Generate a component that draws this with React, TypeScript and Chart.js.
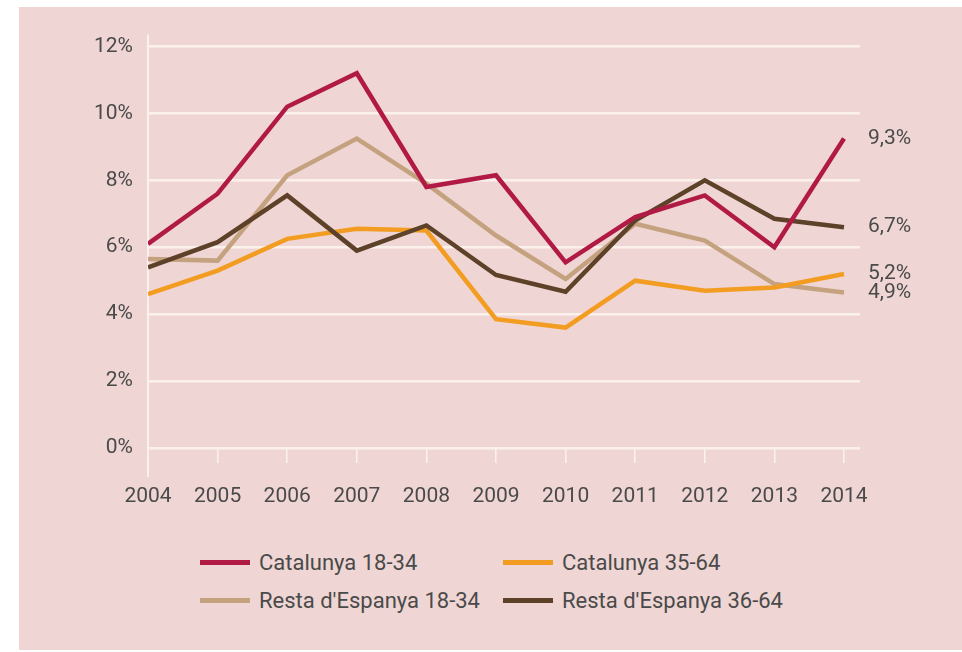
import React, { useEffect, useRef } from "react";
import { Chart, registerables } from "chart.js";

Chart.register(...registerables);

const years = [2004, 2005, 2006, 2007, 2008, 2009, 2010, 2011, 2012, 2013, 2014];
const cat1834 = [6.1, 7.6, 10.2, 11.2, 7.8, 8.15, 5.55, 6.9, 7.55, 6.0, 9.25];
const cat3564 = [4.6, 5.3, 6.25, 6.55, 6.5, 3.85, 3.6, 5.0, 4.7, 4.8, 5.2];
const resta1834 = [5.65, 5.6, 8.15, 9.25, 7.9, 6.35, 5.05, 6.7, 6.2, 4.9, 4.65];
const resta3664 = [5.4, 6.15, 7.55, 5.9, 6.65, 5.17, 4.67, 6.8, 8.0, 6.85, 6.6];

const seriesNames = ["Catalunya 18-34", "Catalunya 35-64", "Resta d'Espanya 18-34", "Resta d'Espanya 36-64"];
const seriesValues = [cat1834, cat3564, resta1834, resta3664];
const seriesColors = ["#B01A45", "#F39C22", "#C5A27F", "#5D4128"];
const drawOrder = [0, 2, 3, 1];
const endLabels = ["9,3%", "5,2%", "4,9%", "6,7%"];
const yTicks = [0, 2, 4, 6, 8, 10, 12];

const FONT = "Roboto, 'Liberation Sans', sans-serif";
const TEXT = "#4a4a4a";
const BG = "#EFD6D4";
const GRID = "#FBF1EC";

export default function App() {
  const ref = useRef<HTMLCanvasElement | null>(null);

  useEffect(() => {
    if (!ref.current) return;
    const endLabelPlugin = {
      id: "endLabels",
      beforeDatasetsDraw(chart: any) {
        const { ctx, chartArea, scales } = chart;
        ctx.save();
        ctx.strokeStyle = GRID;
        ctx.lineWidth = 2;
        ctx.beginPath();
        ctx.moveTo(chartArea.left, chartArea.top);
        ctx.lineTo(chartArea.left, scales.y.getPixelForValue(0) + 29);
        ctx.stroke();
        ctx.restore();
      },
      afterDatasetsDraw(chart: any) {
        const { ctx, chartArea } = chart;
        ctx.save();
        ctx.font = `21px ${FONT}`;
        ctx.fillStyle = TEXT;
        ctx.textAlign = "left";
        ctx.textBaseline = "middle";
        chart.data.datasets.forEach((ds: any, i: number) => {
          const meta = chart.getDatasetMeta(i);
          const pt = meta.data[meta.data.length - 1];
          ctx.fillText(endLabels[i], chartArea.right + 8, pt.y);
        });
        ctx.restore();
      },
    };

    const chart = new Chart(ref.current, {
      type: "line",
      data: {
        datasets: seriesNames.map((name, i) => ({
          label: name,
          data: years.map((yr, j) => ({ x: yr, y: seriesValues[i][j] })),
          borderColor: seriesColors[i],
          backgroundColor: seriesColors[i],
          borderWidth: 4.5,
          pointRadius: 0,
          tension: 0,
          order: drawOrder[i],
          borderJoinStyle: "miter" as const,
        })),
      },
      options: {
        animation: false,
        responsive: false,
        maintainAspectRatio: false,
        layout: { padding: { left: 0, top: 23, right: 102, bottom: 0 } },
        plugins: { legend: { display: false }, tooltip: { enabled: false } },
        scales: {
          x: {
            type: "linear",
            min: 2004,
            max: 2014.23,
            afterFit(scale: any) {
              scale.height = 59;
            },
            ticks: {
              stepSize: 1,
              includeBounds: false,
              autoSkip: false,
              maxRotation: 0,
              padding: 21,
              color: TEXT,
              font: { family: FONT, size: 21 },
              callback: (v: any) => String(v),
            },
            grid: {
              drawOnChartArea: false,
              drawTicks: true,
              tickLength: 15,
              color: GRID,
              lineWidth: 1.5,
            },
            border: { display: false },
          },
          y: {
            type: "linear",
            min: 0,
            max: 12.355,
            afterFit(scale: any) {
              scale.width = 129;
            },
            afterBuildTicks(scale: any) {
              scale.ticks = yTicks.map((v) => ({ value: v }));
            },
            ticks: {
              padding: 15,
              color: TEXT,
              font: { family: FONT, size: 21 },
              callback: (v: any) => `${v}%`,
            },
            grid: {
              drawTicks: false,
              color: GRID,
              lineWidth: 2.5,
            },
            border: { display: false },
          },
        },
      },
      plugins: [endLabelPlugin],
    });
    return () => chart.destroy();
  }, []);

  const legendOrder = [0, 1, 2, 3];
  return (
    <div
      style={{
        position: "absolute",
        left: 19,
        top: 7,
        width: 943,
        height: 643,
        background: BG,
        overflow: "hidden",
      }}
    >
      <canvas ref={ref} width={943} height={500} style={{ position: "absolute", left: 0, top: 0 }} />
      {legendOrder.map((i) => {
        const col = i % 2;
        const row = Math.floor(i / 2);
        const left = col === 0 ? 181 : 484;
        const center = row === 0 ? 555 : 593;
        return (
          <div
            key={i}
            style={{
              position: "absolute",
              left,
              top: center - 19,
              height: 38,
              display: "flex",
              alignItems: "center",
              fontFamily: FONT,
              fontSize: 22,
              color: TEXT,
              whiteSpace: "nowrap",
            }}
          >
            <span
              style={{
                display: "inline-block",
                width: 50,
                height: 5,
                background: seriesColors[i],
                marginRight: 9,
              }}
            />
            <span>{seriesNames[i]}</span>
          </div>
        );
      })}
    </div>
  );
}
